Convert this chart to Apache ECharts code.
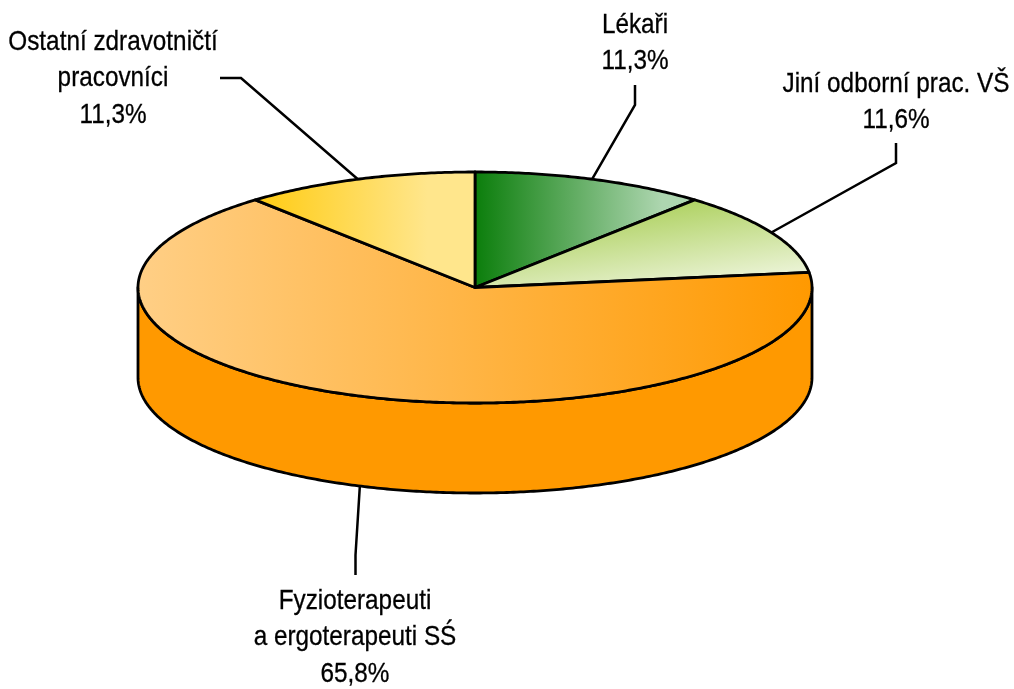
<!DOCTYPE html>
<html><head><meta charset="utf-8">
<style>html,body{margin:0;padding:0;background:#fff}#c{width:1014px;height:689px}</style>
<script src="https://cdn.jsdelivr.net/npm/echarts@6/dist/echarts.min.js"></script>
</head><body><div id="c"></div>
<script>
// Data
const categories = ['Lékaři', 'Jiní odborní prac. VŠ', 'Fyzioterapeuti\na ergoterapeuti SŚ', 'Ostatní zdravotničtí\npracovníci'];
const shares = [11.3, 11.6, 65.8, 11.3];
// Label layout: text centre x, first-line y, leader start, leader elbow, leader-end nudge
const labelAt = [[635, 25], [896, 84], [355, 601], [113, 42]];
const leaderStart = [[635, 85], [896, 143], [355.5, 575], [220, 78]];
const leaderElbow = [[635, 105], [896, 163], [355.5, 555], [241, 78]];
const anchorNudge = [[0, 0], [0, 0], [5, 0], [0, 0]];
const gradients = [
  [0, 0, 1, 0, '#0a7d0a', '#aed6b0', 0.85],
  [0.63, 0, 0.67, 1, '#aed160', '#ecf4d8', 1],
  [0, 0, 1, 0, '#ffcf86', '#ff9900', 1],
  [0, 0, 1, 0, '#ffcb10', '#ffe68c', 0.78]
];
const wallColor = '#ff9900';
const cx = 475, cy = 287.5, rx = 337, ry = 115.5, depth = 90;
const FONT = '"Liberation Sans"', FS = 28, SX = 0.868, LH = 36.7;

const total = shares.reduce((a, b) => a + b, 0);
const TAU = Math.PI * 2;
const rim = (t, dy) => [cx + rx * Math.sin(t), cy + (dy || 0) - ry * Math.cos(t)];
function arc(a, b, dy) {
  const n = Math.max(2, Math.ceil((b - a) / 0.01)), pts = [];
  for (let i = 0; i <= n; i++) pts.push(rim(a + (b - a) * i / n, dy));
  return pts;
}
let acc = 0;
const rows = shares.map((v, i) => { const r = [i, v, acc]; acc += v; return r; });

function renderItem(params, api) {
  const i = api.value(0), v = api.value(1), start = api.value(2);
  const a = start / total * TAU, b = (start + v) / total * TAU, mid = (a + b) / 2;
  const g = gradients[i];
  const children = [];
  const stroke = { stroke: '#000', lineWidth: 2.8, lineJoin: 'round' };
  // side wall: only the front half of the rim is visible
  const wa = Math.max(a, Math.PI / 2), wb = Math.min(b, Math.PI * 1.5);
  if (wb > wa) {
    const top = arc(wa, wb, 0), bottom = arc(wa, wb, depth).reverse();
    children.push({ type: 'polygon', z2: 1, shape: { points: top.concat(bottom) }, style: Object.assign({ fill: wallColor }, stroke) });
  }
  // top face
  children.push({
    type: 'polygon', z2: 2,
    shape: { points: [[cx, cy]].concat(arc(a, b, 0)) },
    style: Object.assign({
      fill: new echarts.graphic.LinearGradient(g[0], g[1], g[2], g[3], [
        { offset: 0, color: g[4] }, { offset: g[6], color: g[5] }, { offset: 1, color: g[5] }
      ])
    }, stroke)
  });
  // leader line: anchored on the rim at the slice's mid-angle
  const front = Math.cos(mid) < 0;
  const p = rim(mid, front ? depth : 0);
  const anchor = [p[0] + anchorNudge[i][0], p[1] + anchorNudge[i][1]];
  children.push({
    type: 'polyline', z2: 3,
    shape: { points: [leaderStart[i], leaderElbow[i], anchor] },
    style: { fill: null, stroke: '#000', lineWidth: 2.5 }
  });
  const pct = v.toFixed(1).replace('.', ',') + '%';
  children.push({
    type: 'text', z2: 4,
    x: labelAt[i][0], y: labelAt[i][1] - LH / 2, scaleX: SX,
    style: {
      text: categories[i] + '\n' + pct,
      font: FS + 'px ' + FONT, lineHeight: LH,
      fill: '#000', stroke: '#000', lineWidth: 0.3, align: 'center', verticalAlign: 'top'
    }
  });
  return { type: 'group', children };
}

const chart = echarts.init(document.getElementById('c'), null, { renderer: 'canvas' });
chart.setOption({
  animation: false,
  backgroundColor: '#fff',
  series: [{ type: 'custom', coordinateSystem: 'none', data: rows, renderItem, silent: true, clip: false }]
});
</script></body></html>
